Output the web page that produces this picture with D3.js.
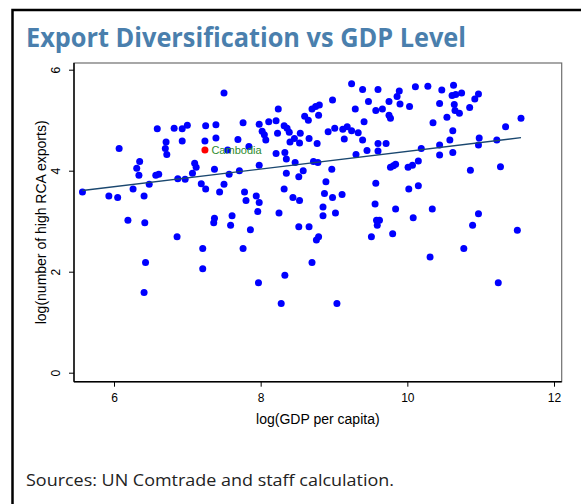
<!DOCTYPE html>
<html>
<head>
<meta charset="utf-8">
<script src="https://cdn.jsdelivr.net/npm/d3@7"></script>
<style>
  body { margin: 0; background: #fff; }
  svg { display: block; }
</style>
</head>
<body>
<svg id="chart" width="581" height="504"></svg>
<script>
// log(GDP per capita) for each country
const gdpLog = [
  5.57,5.93,6.05,6.07,6.26,6.41,6.19,6.42,6.31,6.35,
  6.34,6.48,6.57,6.61,6.59,6.71,6.70,6.72,6.82,6.93,
  7.00,6.93,6.87,6.97,7.07,7.10,7.12,7.19,7.25,7.25,
  7.24,7.39,7.39,7.37,7.50,7.44,7.50,7.55,7.57,7.69,
  7.71,7.76,7.84,7.98,7.98,7.78,7.80,7.94,7.98,7.96,
  8.05,8.07,8.02,8.11,8.21,8.24,8.23,8.21,8.33,8.35,
  8.32,8.36,8.39,8.40,8.46,8.53,8.54,8.47,8.35,8.52,
  8.58,8.32,8.44,8.53,8.25,8.66,8.65,8.60,8.70,8.75,
  8.79,8.77,8.72,8.78,7.61,7.59,7.37,7.36,7.86,8.52,
  8.66,
  9.24,9.39,9.60,9.89,10.11,10.28,10.47,10.63,10.61,10.66,
  10.74,10.97,10.92,8.98,9.47,9.75,9.86,9.90,10.03,10.44,
  10.64,10.65,10.71,10.85,10.54,10.35,9.29,9.57,9.66,9.75,
  9.77,9.41,8.80,8.92,9.01,9.12,9.18,9.24,9.33,9.39,
  9.14,10.62,10.58,10.98,10.97,11.34,11.55,11.22,9.60,9.71,
  9.60,9.45,9.30,10.19,10.44,10.44,10.62,8.97,9.77,9.81,
  9.84,10.01,10.07,10.15,10.86,11.27,8.89,9.57,8.87,8.98,
  9.11,10.02,10.15,9.56,8.85,8.85,9.02,9.84,10.34,10.08,
  10.97,9.58,9.62,9.59,10.89,11.50,
  6.43,6.41,6.86,7.21,7.21,7.76,7.97,8.33,8.28,8.76,
  8.79,8.70,9.51,9.80,10.31,10.77,11.24,9.04
];

// log(number of high RCA exports) for each country
const rcaLog = [
  3.58,3.50,3.47,4.44,3.64,3.50,3.02,2.97,4.05,4.18,
  3.91,3.73,3.91,3.93,4.83,4.57,4.44,4.32,4.84,4.83,
  4.90,4.59,3.84,3.83,3.95,4.15,4.07,3.74,3.64,4.89,
  4.59,4.91,4.65,4.03,3.73,3.58,5.54,4.41,3.93,4.62,
  4.00,4.95,4.48,4.92,4.11,3.58,3.41,3.50,3.37,3.19,
  4.71,4.61,4.78,4.97,4.99,5.22,4.74,4.34,4.36,4.23,
  4.89,4.84,4.76,4.57,4.64,4.55,4.74,4.16,3.95,3.88,
  4.00,3.64,3.47,3.41,3.16,4.64,5.00,5.08,5.22,5.27,
  5.10,4.54,4.18,4.16,3.11,2.92,3.06,2.97,2.83,2.89,
  2.89,
  5.72,5.61,5.61,5.58,5.66,5.67,5.60,5.69,5.49,5.51,
  5.54,5.52,5.42,5.40,5.37,5.37,5.47,5.32,5.27,5.33,
  5.31,5.19,5.14,5.25,5.06,4.95,5.22,5.19,5.22,5.10,
  5.04,4.97,5.30,4.77,4.84,4.82,4.87,4.79,4.75,4.61,
  4.63,4.79,4.61,4.65,4.51,4.87,5.04,4.61,4.54,4.54,
  4.39,4.40,4.32,4.44,4.51,4.31,4.36,4.03,4.07,4.10,
  4.13,4.07,4.11,4.19,4.01,4.08,3.78,3.75,3.55,3.47,
  3.53,3.64,3.70,3.34,3.28,3.11,3.16,3.24,3.24,3.07,
  3.15,3.02,3.02,2.92,2.92,2.82,
  2.18,1.59,2.69,2.46,2.06,2.46,1.78,1.93,1.37,2.63,
  2.69,2.18,2.69,2.75,2.29,2.46,1.78,1.37
];

// highlighted country
const highlightName = "Cambodia";
const highlightGdp = 7.24;
const highlightRca = 4.41;

// linear fit: rca = intercept + slope * gdp
const fitIntercept = 2.633;
const fitSlope = 0.175;

const xTicks = [6, 8, 10, 12];
const yTicks = [0, 2, 4, 6];

const titleText = "Export Diversification vs GDP Level";
const xTitle = "log(GDP per capita)";
const yTitle = "log(number of high RCA exports)";
const sourceText = "Sources: UN Comtrade and staff calculation.";

const svg = d3.select("#chart");
const axisFont = "'Liberation Sans', Arial, sans-serif";
const uiFont = "'Open Sans', 'Noto Sans', sans-serif";

// plot region box
const frame = { left: 74, right: 561.7, top: 63, bottom: 381.7 };

const x = d3.scaleLinear().domain([6, 12]).range([114, 554]);
const y = d3.scaleLinear().domain([0, 6]).range([372.7, 69.7]);

// outer panel border (left and top edges visible)
svg.append("rect")
  .attr("x", 12.5).attr("y", 10).attr("width", 800).attr("height", 800)
  .attr("fill", "none").attr("stroke", "#000").attr("stroke-width", 2.5);

// fit text to a target width while keeping its height
function fitWidth(sel, target) {
  const len = sel.node().getComputedTextLength();
  if (len > 0) sel.attr("textLength", target).attr("lengthAdjust", "spacingAndGlyphs");
}

// title
const title = svg.append("text")
  .attr("x", 26).attr("y", 47)
  .attr("font-family", uiFont).attr("font-weight", 700)
  .attr("font-size", 26).attr("fill", "#4a7fad")
  .text(titleText);
fitWidth(title, 440);

// plot frame
svg.append("rect")
  .attr("x", frame.left).attr("y", frame.top)
  .attr("width", frame.right - frame.left).attr("height", frame.bottom - frame.top)
  .attr("fill", "#fff").attr("stroke", "#6e6e6e").attr("stroke-width", 1.2);

// axis lines
svg.append("line")
  .attr("x1", frame.left).attr("x2", frame.left)
  .attr("y1", frame.top).attr("y2", frame.bottom)
  .attr("stroke", "#000").attr("stroke-width", 1.4);
svg.append("line")
  .attr("x1", frame.left).attr("x2", frame.right)
  .attr("y1", frame.bottom).attr("y2", frame.bottom)
  .attr("stroke", "#000").attr("stroke-width", 1.4);

// x axis
const gx = svg.append("g")
  .attr("transform", `translate(0,${frame.bottom})`)
  .call(d3.axisBottom(x).tickValues(xTicks).tickSize(5).tickSizeOuter(0).tickFormat(d3.format("d")));
gx.select(".domain").remove();
gx.selectAll(".tick line").attr("stroke", "#000").attr("stroke-width", 1);
gx.selectAll(".tick text")
  .attr("y", 11.5).attr("font-family", axisFont).attr("font-size", 12).attr("fill", "#000");

// y axis with rotated labels
const gy = svg.append("g")
  .attr("transform", `translate(${frame.left},0)`)
  .call(d3.axisLeft(y).tickValues(yTicks).tickSize(5).tickSizeOuter(0).tickFormat(d3.format("d")));
gy.select(".domain").remove();
gy.selectAll(".tick line").attr("stroke", "#000").attr("stroke-width", 1);
gy.selectAll(".tick text")
  .attr("x", null).attr("dy", null)
  .attr("text-anchor", "middle")
  .attr("transform", "translate(-14,0) rotate(-90)")
  .attr("font-family", axisFont).attr("font-size", 12).attr("fill", "#000");

// axis titles
svg.append("text")
  .attr("x", (frame.left + frame.right) / 2).attr("y", 423.5)
  .attr("text-anchor", "middle")
  .attr("font-family", axisFont).attr("font-size", 14).attr("fill", "#000")
  .text(xTitle);
svg.append("text")
  .attr("transform", `translate(46,${(frame.top + frame.bottom) / 2}) rotate(-90)`)
  .attr("text-anchor", "middle")
  .attr("font-family", axisFont).attr("font-size", 14).attr("fill", "#000")
  .text(yTitle);

// scatter points
const points = gdpLog.map((g, i) => ({ gdp: g, rca: rcaLog[i] }));
svg.append("g")
  .selectAll("circle")
  .data(points)
  .join("circle")
  .attr("cx", d => x(d.gdp))
  .attr("cy", d => y(d.rca))
  .attr("r", 3.5)
  .attr("fill", "#0000ff");

// fitted line across the data range
const [gMin, gMax] = d3.extent(gdpLog);
const fitData = [gMin, gMax].map(g => ({ gdp: g, rca: fitIntercept + fitSlope * g }));
svg.append("path")
  .datum(fitData)
  .attr("d", d3.line().x(d => x(d.gdp)).y(d => y(d.rca)))
  .attr("fill", "none").attr("stroke", "#1a476f").attr("stroke-width", 1.3);

// highlighted country
svg.append("circle")
  .attr("cx", x(highlightGdp)).attr("cy", y(highlightRca))
  .attr("r", 3.5).attr("fill", "#ff0000");
svg.append("text")
  .attr("x", x(highlightGdp) + 6.5).attr("y", y(highlightRca) + 4)
  .attr("font-family", axisFont).attr("font-size", 11).attr("fill", "#2e8b2e")
  .text(highlightName);

// source note
const note = svg.append("text")
  .attr("x", 26).attr("y", 486)
  .attr("font-family", uiFont).attr("font-size", 16).attr("fill", "#222")
  .text(sourceText);
fitWidth(note, 368);
</script>
</body>
</html>
